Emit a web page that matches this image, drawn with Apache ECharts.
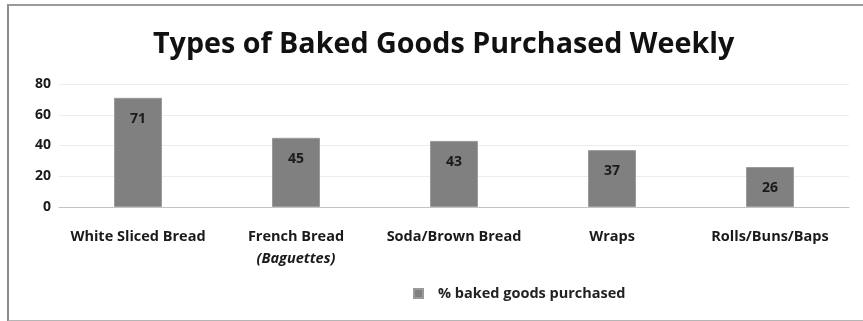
<!DOCTYPE html>
<html>
<head>
<meta charset="utf-8">
<script src="https://cdn.jsdelivr.net/npm/echarts@6/dist/echarts.min.js"></script>
<style>
  html, body { margin: 0; padding: 0; background: #fff; }
  #frame {
    position: absolute; left: 7px; top: 4px; width: 870px; height: 314px;
    border-left: 2px solid #8c8c8c; border-top: 2px solid #9a9a9a; border-bottom: 2px solid #b5b5b5;
  }
  #chart { position: absolute; left: 0; top: 0; width: 863px; height: 321px; }
</style>
</head>
<body>
<div id="frame"></div>
<div id="chart"></div>
<script>
// Baked goods bought each week, in percent
const categories = ['White Sliced Bread', 'French Bread|Baguettes', 'Soda/Brown Bread', 'Wraps', 'Rolls/Buns/Baps'];
const purchased = [71, 45, 43, 37, 26];
const yTicks = [0, 20, 40, 60, 80];
const seriesName = '% baked goods purchased';

const font = '"Open Sans", Lato, sans-serif';
const chart = echarts.init(document.getElementById('chart'));

chart.setOption({
  animation: false,
  title: {
    text: 'Types of Baked Goods Purchased Weekly',
    left: 148, top: 25,
    textStyle: { fontFamily: font, fontWeight: 'bold', fontSize: 28.7, color: '#111' }
  },
  grid: { left: 59, right: 14, top: 84, bottom: 114 },
  legend: {
    data: [seriesName],
    bottom: 15, left: 408,
    itemWidth: 9, itemHeight: 9, itemGap: 6,
    icon: 'rect',
    textStyle: { fontFamily: font, fontWeight: 'bold', fontSize: 14.5, color: '#222', padding: [0, 0, 0, 10] }
  },
  xAxis: {
    type: 'category',
    data: categories,
    axisTick: { show: false },
    axisLine: { lineStyle: { color: '#c4c4c4', width: 1 } },
    axisLabel: {
      margin: 19, interval: 0,
      fontFamily: font, fontWeight: 'bold', fontSize: 14.5, color: '#1a1a1a', lineHeight: 22,
      formatter: v => {
        const parts = v.split('|');
        return parts.length > 1 ? parts[0] + '\n{it|(' + parts[1] + ')}' : v;
      },
      rich: { it: { fontStyle: 'italic', fontFamily: font, fontWeight: 'bold', fontSize: 14.5, color: '#1a1a1a' } }
    }
  },
  yAxis: {
    type: 'value',
    min: yTicks[0], max: yTicks[yTicks.length - 1], interval: 20,
    axisLine: { show: false },
    axisTick: { show: false },
    splitLine: { lineStyle: { color: '#ececec', width: 1 } },
    axisLabel: { margin: 8, fontFamily: font, fontWeight: 'bold', fontSize: 14, color: '#1a1a1a' }
  },
  series: [{
    name: seriesName,
    type: 'bar',
    data: purchased,
    barWidth: 48,
    itemStyle: { color: '#808080', borderColor: '#9a9a9a', borderWidth: 1 },
    label: {
      show: true, position: 'insideTop', distance: 14,
      fontFamily: font, fontWeight: 'bold', fontSize: 14, color: '#1a1a1a'
    }
  }]
});
</script>
</body>
</html>
